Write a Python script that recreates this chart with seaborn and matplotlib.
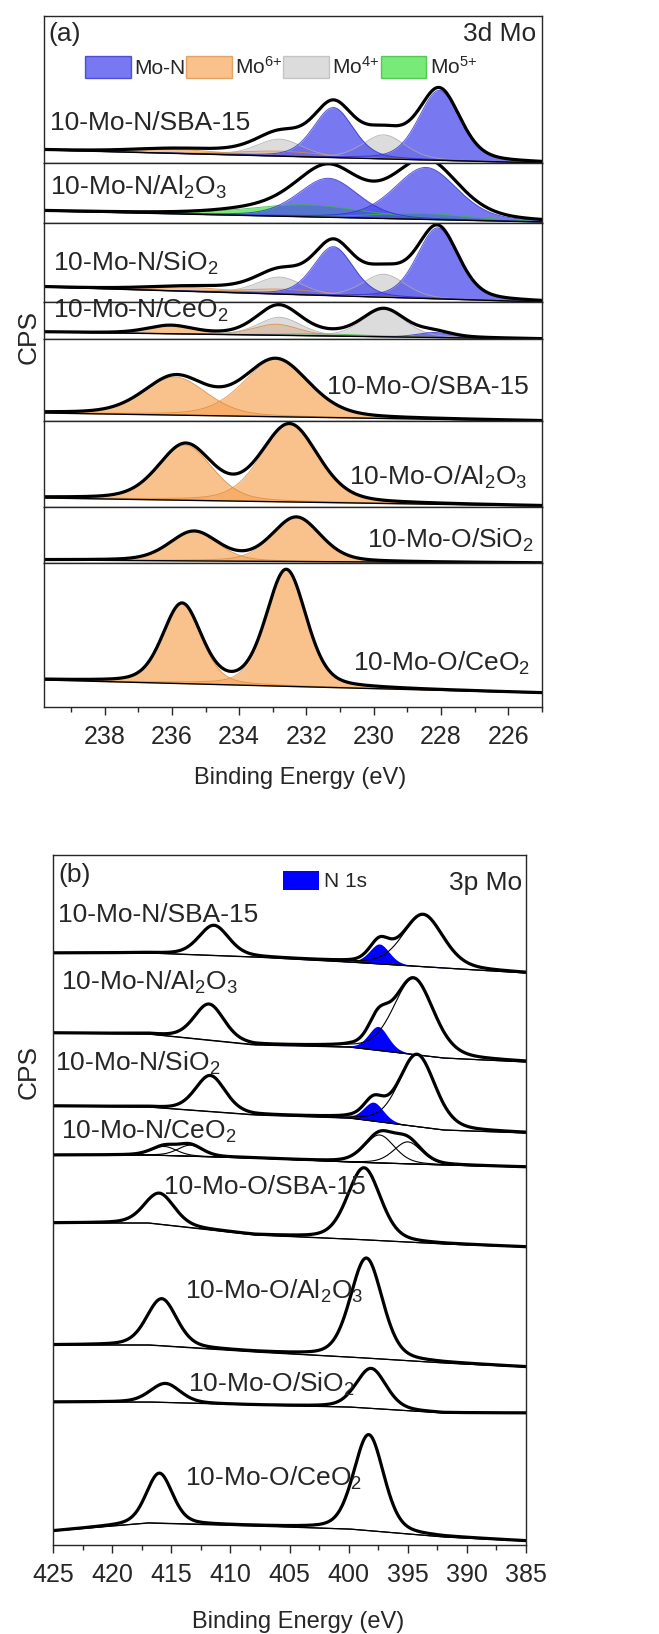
import numpy as np
import matplotlib
matplotlib.use("Agg")
import matplotlib.pyplot as plt
from matplotlib.patches import Patch
from matplotlib.ticker import MultipleLocator
import seaborn as sns

# ============================================================
# data (peak fit parameters, arbitrary CPS units)
# ============================================================
SAMPLES = ["10-Mo-N/SBA-15", "10-Mo-N/Al$_2$O$_3$", "10-Mo-N/SiO$_2$", "10-Mo-N/CeO$_2$",
           "10-Mo-O/SBA-15", "10-Mo-O/Al$_2$O$_3$", "10-Mo-O/SiO$_2$", "10-Mo-O/CeO$_2$"]

# --- (a) 3d Mo: linear background at the high / low BE end
A_BG_LEFT = [13, 12, 15, 7, 8, 9, 3, 27]
A_BG_RIGHT = [0, 1, 0, 0, 0, 1, 0, 14]

# components: spectrum index, position (eV), height, FWHM (eV)
MON_IDX = [0, 0, 1, 1, 2, 2, 3]
MON_POS = [231.2, 228.05, 231.35, 228.45, 231.2, 228.1, 228.2]
MON_HT = [50, 70, 39, 52, 49, 71, 5]
MON_FWHM = [1.4, 1.45, 2.1, 2.2, 1.4, 1.45, 1.2]

MO6_IDX = [0, 0, 2, 2, 3, 3, 4, 4, 5, 5, 6, 6, 7, 7]
MO6_POS = [235.9, 232.8, 235.5, 232.7, 236.05, 232.9, 235.9, 232.9, 235.6, 232.5, 235.35, 232.3, 235.7, 232.6]
MO6_HT = [4, 5, 4, 5, 8, 11, 38, 57, 55, 77, 29, 44, 79, 116]
MO6_FWHM = [3.0, 3.0, 3.0, 3.0, 1.6, 1.6, 2.2, 2.3, 1.9, 2.0, 1.7, 1.7, 1.35, 1.4]

MO4_IDX = [0, 0, 2, 2, 3, 3]
MO4_POS = [232.8, 229.7, 232.8, 229.7, 232.8, 229.7]
MO4_HT = [17, 24, 17, 23, 18, 27]
MO4_FWHM = [1.6, 1.5, 1.6, 1.5, 1.5, 1.5]

MO5_IDX = [1, 1, 3]
MO5_POS = [232.0, 228.6, 231.5]
MO5_HT = [12, 6, 2]
MO5_FWHM = [4.0, 3.4, 3.0]

# --- (b) 3p Mo / N 1s: background anchors
B_BG_E = [385, 392, 400, 408, 417, 425]
B_BG = [[572, 577, 583, 588, 592, 592],
        [483, 487, 498, 500, 511, 512],
        [412, 415, 427, 430, 438, 439],
        [378, 380, 383, 387, 390, 390],
        [298, 301, 306, 310, 322, 322],
        [178, 182, 188, 193, 200, 200],
        [132, 132, 138, 140, 143, 143],
        [4, 8, 16, 19, 22, 14]]

MO3P_IDX = [0, 0, 1, 1, 2, 2, 3, 3, 3, 3, 4, 4, 5, 5, 6, 6, 7, 7]
MO3P_POS = [411.4, 393.7, 411.8, 394.5, 411.7, 394.2, 415.6, 413.4, 397.4, 395.0,
            416.0, 398.7, 415.8, 398.5, 415.5, 398.1, 416.0, 398.3]
MO3P_HT = [30, 52, 36, 76, 36, 72, 9, 11, 28, 22, 31, 72, 47, 100, 19, 40, 50, 96]
MO3P_FWHM = [3.0, 4.0, 3.0, 4.0, 3.0, 3.6, 2.5, 2.5, 3.0, 2.8, 3.0, 3.3, 3.0, 3.2, 3.0, 3.0, 2.6, 3.0]

N1S_IDX = [0, 1, 2]
N1S_POS = [397.4, 397.5, 397.9]
N1S_HT = [20, 24, 19]
N1S_FWHM = [2.0, 2.0, 2.0]

# ============================================================
# style / layout
# ============================================================
sns.set_theme(style="ticks")
plt.rcParams['font.family'] = ['Liberation Sans', 'DejaVu Sans']
plt.rcParams['mathtext.fontset'] = 'custom'
plt.rcParams['mathtext.rm'] = 'Liberation Sans'
plt.rcParams['mathtext.it'] = 'Liberation Sans:italic'
plt.rcParams['axes.linewidth'] = 1.0

W, H = 659, 1634
FS = 19

STRIP_EDGES = [16, 163, 223, 302, 339, 421, 507, 563, 707]
STRIP_H = np.diff(STRIP_EDGES)

COMP_STYLE = {
    'Mo-N': ('#4B4BEB', 0.75, '#2a2ad0'),
    'Mo6': ('#F7A75C', 0.70, '#d98a3c'),
    'Mo4': ('#C5C5C5', 0.60, '#aaaaaa'),
    'Mo5': ('#4BE44B', 0.75, '#33bb33'),
}


def fx(px):
    return px / W


def fy(py):
    return 1 - py / H


def gl(e, pos, ht, fwhm, m=0.3):
    """Gaussian-Lorentzian line shape used by the peak fit"""
    x = (e - pos) / fwhm
    return ht * ((1 - m) * np.exp(-4 * np.log(2) * x ** 2) + m / (1 + 4 * x ** 2))


fig = plt.figure(figsize=(W / 100, H / 100), dpi=100)

# ---------------- (a) ----------------
gs = fig.add_gridspec(8, 1, height_ratios=STRIP_H, hspace=0,
                      left=fx(44), right=fx(542), top=fy(16), bottom=fy(707))
e_a = np.linspace(239.8, 225.0, 700)
comps_a = [('Mo6', MO6_IDX, MO6_POS, MO6_HT, MO6_FWHM),
           ('Mo5', MO5_IDX, MO5_POS, MO5_HT, MO5_FWHM),
           ('Mo4', MO4_IDX, MO4_POS, MO4_HT, MO4_FWHM),
           ('Mo-N', MON_IDX, MON_POS, MON_HT, MON_FWHM)]

for i in range(8):
    ax = fig.add_subplot(gs[i])
    bg = np.interp(e_a, [225.0, 239.8], [A_BG_RIGHT[i], A_BG_LEFT[i]])
    env = bg.copy()
    for name, idx, pos, ht, fw in comps_a:
        col, alpha, edge = COMP_STYLE[name]
        for k in range(len(idx)):
            if idx[k] != i:
                continue
            y = gl(e_a, pos[k], ht[k], fw[k])
            ax.fill_between(e_a, bg, bg + y, color=col, alpha=alpha, lw=0)
            ax.plot(e_a, bg + y, color=edge, lw=0.7, alpha=0.8)
            env = env + y
    ax.plot(e_a, bg, color='black', lw=1.0)
    sns.lineplot(x=e_a, y=env, ax=ax, color='black', lw=2.3, estimator=None, sort=False)
    ax.set_xlim(239.8, 225.0)
    ax.set_ylim(0, STRIP_H[i])
    ax.set_yticks([])
    ax.set_ylabel('')
    if i < 7:
        ax.tick_params(axis='x', bottom=False, labelbottom=False)
    else:
        ax.xaxis.set_major_locator(MultipleLocator(2))
        ax.xaxis.set_minor_locator(MultipleLocator(1))
        ax.tick_params(axis='x', which='major', direction='out', length=6, width=1.0,
                       labelsize=18, pad=7)
        ax.tick_params(axis='x', which='minor', direction='out', length=3.5, width=1.0)
        ax.set_xlim(239.8, 225.0)

# ---------------- (b) ----------------
axb = fig.add_axes([fx(53), fy(1545), fx(526) - fx(53), fy(855) - fy(1545)])
e_b = np.linspace(425, 385, 900)
for i in range(8):
    bg = np.interp(e_b, B_BG_E, B_BG[i])
    env = bg.copy()
    for k in range(len(N1S_IDX)):
        if N1S_IDX[k] == i:
            y = gl(e_b, N1S_POS[k], N1S_HT[k], N1S_FWHM[k])
            axb.fill_between(e_b, bg, bg + y, color='#0000FF', lw=0)
            env = env + y
    for k in range(len(MO3P_IDX)):
        if MO3P_IDX[k] == i:
            y = gl(e_b, MO3P_POS[k], MO3P_HT[k], MO3P_FWHM[k])
            axb.plot(e_b, bg + y, color='black', lw=0.8)
            env = env + y
    axb.plot(e_b, bg, color='black', lw=0.9)
    sns.lineplot(x=e_b, y=env, ax=axb, color='black', lw=2.3, estimator=None, sort=False)
axb.set_xlim(425, 385)
axb.set_ylim(0, 690)
axb.set_yticks([])
axb.set_ylabel('')
axb.xaxis.set_major_locator(MultipleLocator(5))
axb.xaxis.set_minor_locator(MultipleLocator(2.5))
axb.tick_params(axis='x', which='major', direction='out', length=6, width=1.0,
                labelsize=18, pad=7)
axb.tick_params(axis='x', which='minor', direction='out', length=3.5, width=1.0)

# ---------------- texts ----------------
A_LABEL_POS = [(50, 130, 'left'), (50, 195, 'left'), (53, 271, 'left'), (53, 318, 'left'),
               (529, 394, 'right'), (527, 485, 'right'), (534, 548, 'right'), (530, 671, 'right')]
B_LABEL_POS = [(58, 922, 'left'), (61, 990, 'left'), (55, 1071, 'left'), (61, 1139, 'left'),
               (164, 1194, 'left'), (185, 1299, 'left'), (188, 1392, 'left'), (185, 1486, 'left')]
for lab, (x, y, ha) in zip(SAMPLES, A_LABEL_POS):
    fig.text(fx(x), fy(y), lab, ha=ha, va='baseline', fontsize=FS)
for lab, (x, y, ha) in zip(SAMPLES, B_LABEL_POS):
    fig.text(fx(x), fy(y), lab, ha=ha, va='baseline', fontsize=FS)

fig.text(fx(48), fy(34), '(a)', ha='left', va='center', fontsize=FS)
fig.text(fx(536), fy(34), '3d Mo', ha='right', va='center', fontsize=FS)
fig.text(fx(58), fy(875), '(b)', ha='left', va='center', fontsize=FS)
fig.text(fx(522), fy(883), '3p Mo', ha='right', va='center', fontsize=FS)

fig.text(fx(300), fy(778), 'Binding Energy (eV)', ha='center', va='center', fontsize=17)
fig.text(fx(298), fy(1622), 'Binding Energy (eV)', ha='center', va='center', fontsize=17)
fig.text(fx(29), fy(337), 'CPS', ha='center', va='center', rotation=90, fontsize=FS)
fig.text(fx(29), fy(1072), 'CPS', ha='center', va='center', rotation=90, fontsize=FS)

# legends
handles_a = [Patch(facecolor=COMP_STYLE[n][0], alpha=COMP_STYLE[n][1], edgecolor=COMP_STYLE[n][2], lw=1)
             for n in ['Mo-N', 'Mo6', 'Mo4', 'Mo5']]
labels_a = ['Mo-N', 'Mo$^{6{+}}$', 'Mo$^{4{+}}$', 'Mo$^{5{+}}$']
fig.legend(handles_a, labels_a, loc='upper left', bbox_to_anchor=(fx(85), fy(56)),
           bbox_transform=fig.transFigure, ncol=4, frameon=False, fontsize=15,
           handlelength=2.2, handleheight=1.25, handletextpad=0.15, columnspacing=0.05,
           borderpad=0, borderaxespad=0)
fig.legend([Patch(facecolor='#0000FF', lw=0)], ['N 1s'], loc='upper left',
           bbox_to_anchor=(fx(283), fy(871)), bbox_transform=fig.transFigure,
           frameon=False, fontsize=15, handlelength=1.75, handleheight=1.0,
           handletextpad=0.2, borderpad=0, borderaxespad=0)

fig.savefig('out.png', dpi=100)
